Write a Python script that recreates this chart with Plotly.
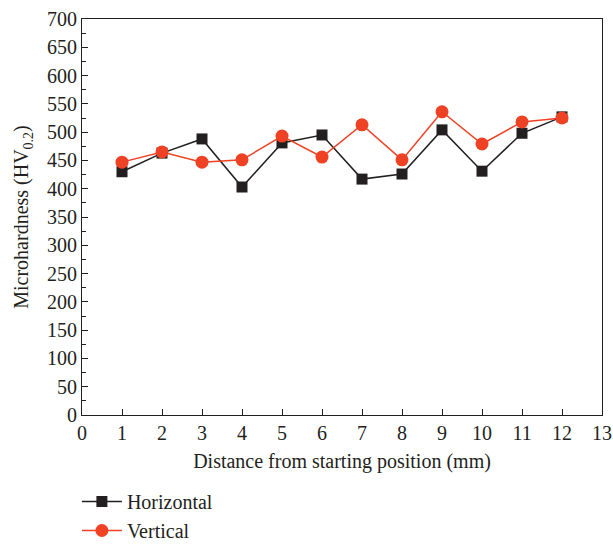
import plotly.graph_objects as go

distance = [1, 2, 3, 4, 5, 6, 7, 8, 9, 10, 11, 12]
horizontal = [430, 463, 488, 403, 481, 495, 417, 426, 504, 431, 498, 527]
vertical = [447, 465, 447, 451, 493, 456, 513, 451, 536, 479, 518, 525]

BLACK = "#231f20"
RED = "#ef4123"
FONT = "Liberation Serif"

W, H = 613, 550
ML, MT, MB = 82, 19, 135
PLOT_W = 520
PLOT_H = H - MT - MB

fig = go.Figure()
fig.add_trace(go.Scatter(
    x=distance, y=horizontal, name="Horizontal", mode="lines+markers",
    line=dict(color=BLACK, width=1.5),
    marker=dict(symbol="square", size=11, color=BLACK),
))
fig.add_trace(go.Scatter(
    x=distance, y=vertical, name="Vertical", mode="lines+markers",
    line=dict(color=RED, width=1.5),
    marker=dict(symbol="circle", size=13, color=RED),
))

axis_common = dict(
    showgrid=False, zeroline=False, showline=True, linecolor=BLACK, linewidth=1.2,
    mirror=True, ticks="inside", ticklen=6, tickcolor=BLACK, tickwidth=1,
    tickfont=dict(family=FONT, size=20, color=BLACK), automargin=False,
)

fig.update_xaxes(
    range=[0, 13], dtick=1, tick0=0, domain=[0, PLOT_W / (W - ML)],
    title=dict(text="Distance from starting position (mm)", font=dict(family=FONT, size=20, color=BLACK), standoff=10),
    **axis_common,
)
fig.update_yaxes(
    range=[0, 700], dtick=50, tick0=0,
    minor=dict(dtick=25, ticks="inside", ticklen=4, tickcolor=BLACK),
    title=dict(text="Microhardness (HV<sub>0.2</sub>)", font=dict(family=FONT, size=20, color=BLACK), standoff=12),
    **axis_common,
)

fig.update_layout(
    width=W, height=H,
    margin=dict(l=ML, r=0, t=MT, b=MB),
    plot_bgcolor="white", paper_bgcolor="white",
    font=dict(family=FONT, color=BLACK),
    legend=dict(
        x=-5 / PLOT_W, y=-MB / PLOT_H, xanchor="left", yanchor="bottom", orientation="v",
        font=dict(family=FONT, size=20, color=BLACK), itemwidth=40,
        tracegroupgap=0,
    ),
)

fig.write_html(
    "out.html",
    config={"displayModeBar": False},
    post_script="document.body.style.margin='0px';document.body.style.overflow='hidden';",
)
